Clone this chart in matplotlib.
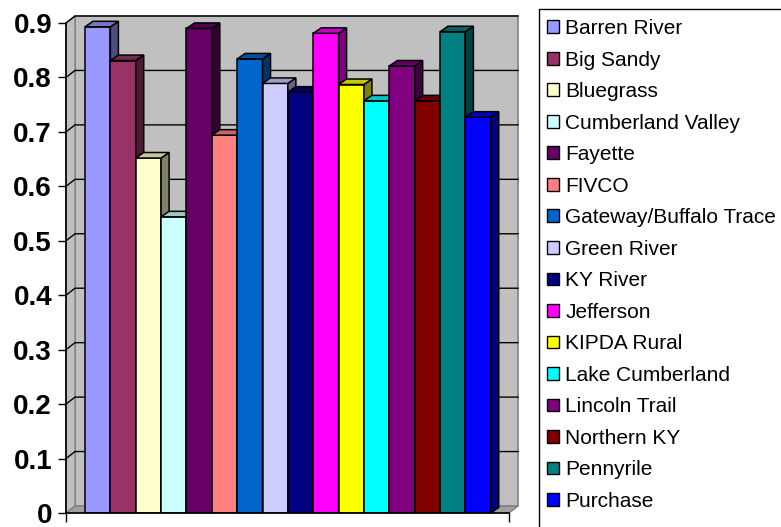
import matplotlib
matplotlib.use("Agg")
import matplotlib.pyplot as plt
from matplotlib.patches import Polygon, Patch, Rectangle
from matplotlib.ticker import FuncFormatter
import matplotlib.colors as mcolors

plt.rcParams['font.family'] = ['Liberation Sans', 'DejaVu Sans']

# Regions and their values
regions = ["Barren River", "Big Sandy", "Bluegrass", "Cumberland Valley", "Fayette",
           "FIVCO", "Gateway/Buffalo Trace", "Green River", "KY River", "Jefferson",
           "KIPDA Rural", "Lake Cumberland", "Lincoln Trail", "Northern KY",
           "Pennyrile", "Purchase"]
values = [0.893, 0.831, 0.652, 0.544, 0.890, 0.694, 0.834, 0.789,
          0.773, 0.881, 0.787, 0.757, 0.821, 0.757, 0.884, 0.727]
colors = ["#9999FF", "#993366", "#FFFFCC", "#CCFFFF", "#660066", "#FF8080",
          "#0066CC", "#CCCCFF", "#000080", "#FF00FF", "#FFFF00", "#00FFFF",
          "#800080", "#800000", "#008080", "#0000FF"]
yticks = [0.0, 0.1, 0.2, 0.3, 0.4, 0.5, 0.6, 0.7, 0.8, 0.9]

W, H = 781, 527
fig = plt.figure(figsize=(W / 100, H / 100), dpi=100)

# front plane of the 3-D plot area, in pixels
L, R, B, T = 66, 509, 513, 23
ax = fig.add_axes([L / W, (H - B) / H, (R - L) / W, (B - T) / H])
x0, x1 = -0.75, 16.72
y0, y1 = 0.0, 0.9
ax.set_xlim(x0, x1)
ax.set_ylim(y0, y1)
ax.set_facecolor("none")

px_x = (R - L) / (x1 - x0)   # pixels per x unit
px_y = (B - T) / (y1 - y0)   # pixels per y unit

# depth offsets (pixels -> data)
wdx, wdy = 9 / px_x, 7 / px_y     # walls / floor
bdx, bdy = 8 / px_x, 5.5 / px_y   # bars

wall_c = "#C0C0C0"
edge_c = "#808080"

# back wall
ax.add_patch(Polygon([(x0 + wdx, y0 + wdy), (x1 + wdx, y0 + wdy),
                      (x1 + wdx, y1 + wdy), (x0 + wdx, y1 + wdy)],
                     closed=True, facecolor=wall_c, edgecolor=edge_c,
                     linewidth=1.2, clip_on=False, zorder=0.5))
# left side wall
ax.add_patch(Polygon([(x0, y0), (x0 + wdx, y0 + wdy), (x0 + wdx, y1 + wdy), (x0, y1)],
                     closed=True, facecolor=wall_c, edgecolor=edge_c,
                     linewidth=1.0, clip_on=False, zorder=0.6))
# floor
ax.add_patch(Polygon([(x0, y0), (x1, y0), (x1 + wdx, y0 + wdy), (x0 + wdx, y0 + wdy)],
                     closed=True, facecolor="#A0A0A0", edgecolor=edge_c,
                     linewidth=1.0, clip_on=False, zorder=0.7))

# gridlines across side wall and back wall
for yv in yticks[1:]:
    ax.plot([x0, x0 + wdx, x1 + wdx], [yv, yv + wdy, yv + wdy],
            color="black", linewidth=1.0, clip_on=False, zorder=0.8)


def shade(c, f):
    r, g, b = mcolors.to_rgb(c)
    return (r * f, g * f, b * f)


# 3-D columns: front faces via bar(), then side and top faces
xs = list(range(len(values)))
bars = ax.bar(xs, values, width=1.0, align="edge", color=colors,
              edgecolor="black", linewidth=1.1, zorder=2)
for i, (rect, v, c) in enumerate(zip(bars, values, colors)):
    z = 2 + i * 0.01
    rect.set_zorder(z)
    xl = rect.get_x()
    xr = xl + rect.get_width()
    side = Polygon([(xr, 0), (xr + bdx, bdy), (xr + bdx, v + bdy), (xr, v)],
                   closed=True, facecolor=shade(c, 0.5), edgecolor="black",
                   linewidth=1.1, zorder=z + 0.002, clip_on=False)
    top = Polygon([(xl, v), (xr, v), (xr + bdx, v + bdy), (xl + bdx, v + bdy)],
                  closed=True, facecolor=shade(c, 0.78), edgecolor="black",
                  linewidth=1.1, zorder=z + 0.004, clip_on=False)
    ax.add_patch(side)
    ax.add_patch(top)

# axes lines and ticks
for s in ("top", "right"):
    ax.spines[s].set_visible(False)
for s in ("left", "bottom"):
    ax.spines[s].set_color("black")
    ax.spines[s].set_linewidth(1.2)
    ax.spines[s].set_zorder(3)

ax.set_yticks(yticks)
ax.yaxis.set_major_formatter(FuncFormatter(lambda v, p: "0" if abs(v) < 1e-9 else f"{v:.1f}"))
ax.tick_params(axis="y", direction="out", length=5.5, width=1.0, pad=4.5,
               labelsize=20, colors="black")
for lab in ax.get_yticklabels():
    lab.set_fontweight("bold")

ax.set_xticks([x0, x1])
ax.set_xticklabels([])
ax.tick_params(axis="x", direction="out", length=6.5, width=1.0)

# legend box runs past the right and bottom edges of the figure
fig.add_artist(Rectangle((539 / W, -0.2), 0.5, 1.2 - 9 / H, transform=fig.transFigure,
                         facecolor="white", edgecolor="black", linewidth=1.0,
                         clip_on=False, zorder=1))
handles = [Patch(facecolor=c, edgecolor="black", linewidth=1.0) for c in colors]
leg = fig.legend(handles, regions, loc="upper left",
                 bbox_to_anchor=(539 / W, 1 - 11 / H), bbox_transform=fig.transFigure,
                 frameon=False, borderaxespad=0, fontsize=15, handlelength=0.58,
                 handleheight=0.58, handletextpad=0.29, labelspacing=0.6, borderpad=0.4)
leg.set_zorder(2)

fig.savefig("out.png", dpi=100)
